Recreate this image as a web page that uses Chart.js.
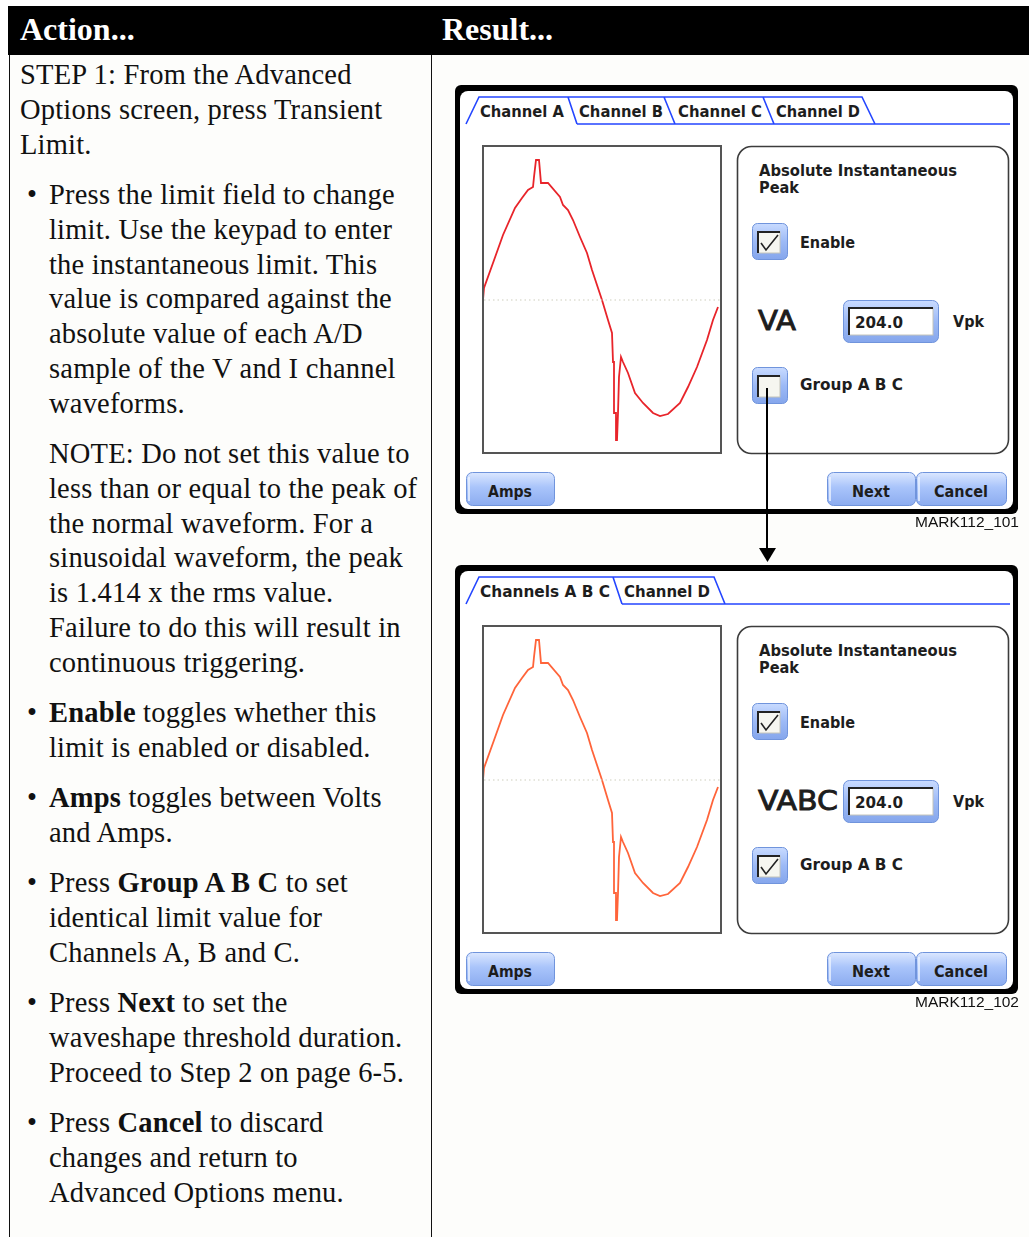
<!DOCTYPE html>
<html lang="en">
<head>
<meta charset="utf-8">
<title>Transient Limit - Step 1</title>
<script src="https://cdn.jsdelivr.net/npm/chart.js@4.4.0/dist/chart.umd.min.js"></script>
<style>
  html, body { margin: 0; padding: 0; }
  body {
    width: 1029px; height: 1237px; position: relative; overflow: hidden;
    background: #fff; color: #111;
    font-family: "Liberation Serif", "Times New Roman", serif;
  }
  .head { position: absolute; left: 8px; top: 6px; width: 1021px; height: 49px; background: #000; }
  .head span { position: absolute; top: 7px; line-height: 32px; font-size: 32px; font-weight: bold; color: #fff; }
  .sheet { position: absolute; left: 9px; top: 55px; width: 1020px; height: 1182px; background: #fdfdfb; border-left: 1px solid #111; }
  .divider { position: absolute; left: 431px; top: 55px; width: 1px; height: 1182px; background: #111; }
  .para { position: absolute; left: 49px; font-size: 28.5px; letter-spacing: 0.2px; line-height: 34.8px; white-space: nowrap; }
  .para.step { left: 20px; }
  .dot { position: absolute; left: -22px; }
  .screen { position: absolute; left: 455px; width: 563px; height: 429px; }
  .screen svg { position: absolute; left: 0; top: 0; }
  .wave { position: absolute; left: 29px; top: 62px; width: 236px; height: 305px; }
  #overlay { position: absolute; left: 0; top: 0; z-index: 5; }
</style>
</head>
<body>
<div class="head"><span style="left:12px">Action...</span><span style="left:434px">Result...</span></div>
<div class="sheet"></div>
<div class="divider"></div>

<div class="para step" style="top:58px">STEP 1: From the Advanced<br>Options screen, press Transient<br>Limit.</div>
<div class="para" style="top:178px"><span class="dot">•</span>Press the limit field to change<br>limit. Use the keypad to enter<br>the instantaneous limit. This<br>value is compared against the<br>absolute value of each A/D<br>sample of the V and I channel<br>waveforms.</div>
<div class="para" style="top:437px">NOTE: Do not set this value to<br>less than or equal to the peak of<br>the normal waveform. For a<br>sinusoidal waveform, the peak<br>is 1.414 x the rms value.<br>Failure to do this will result in<br>continuous triggering.</div>
<div class="para" style="top:696px"><span class="dot">•</span><b>Enable</b> toggles whether this<br>limit is enabled or disabled.</div>
<div class="para" style="top:781px"><span class="dot">•</span><b>Amps</b> toggles between Volts<br>and Amps.</div>
<div class="para" style="top:866px"><span class="dot">•</span>Press <b>Group A B C</b> to set<br>identical limit value for<br>Channels A, B and C.</div>
<div class="para" style="top:986px"><span class="dot">•</span>Press <b>Next</b> to set the<br>waveshape threshold duration.<br>Proceed to Step 2 on page 6-5.</div>
<div class="para" style="top:1106px"><span class="dot">•</span>Press <b>Cancel</b> to discard<br>changes and return to<br>Advanced Options menu.</div>

<div class="screen" id="screen-a" style="top:85px"><div class="wave"><canvas id="wave-a"></canvas></div></div>
<div class="screen" id="screen-abc" style="top:565px"><div class="wave"><canvas id="wave-abc"></canvas></div></div>

<svg id="overlay" width="1029" height="1237">
  <line x1="767" y1="388" x2="767" y2="550" stroke="#000" stroke-width="2"/>
  <polygon points="759,548 776,548 767.5,562" fill="#000"/>
  <text x="1019" y="527" text-anchor="end" font-family="Liberation Sans, Arial, sans-serif" font-size="15.5" fill="#111">MARK112_101</text>
  <text x="1019" y="1007" text-anchor="end" font-family="Liberation Sans, Arial, sans-serif" font-size="15.5" fill="#111">MARK112_102</text>
</svg>

<script>
// waveform captured on the meter screen (sample index across the plot, amplitude above/below zero)
const sampleIdx = [0, 1, 10, 20, 32, 39, 45, 50, 51, 53, 56, 58, 65, 77, 80, 85, 90, 97, 104, 109, 114, 119, 125, 129,
  130, 131, 131, 133, 133, 134, 135, 136, 138, 140, 145, 152, 160, 170, 177, 185, 197, 205, 214, 224, 230, 235];
const amplitude = [0, 12, 37, 65, 92, 102, 110, 113, 123, 140, 140, 117, 117, 103, 95, 90, 80, 63, 47, 30, 15, 0, -20, -33,
  -62, -62, -113, -113, -140, -140, -113, -77, -57, -62, -73, -93, -103, -113, -116, -114, -103, -87, -67, -40, -20, -7];
const zeroIdx = [1, 237];
const zeroLine = [0, 0];

const FONT = "DejaVu Sans, Verdana, sans-serif";

const select = (selector) => document.querySelector(selector);

const toPoints = (xs, ys) => xs.map((x, i) => ({ x, y: ys[i] }));

const label = (x, y, txt, w, size = 15, weight = "bold", anchor = "start", extra = "") =>
  `<text x="${x}" y="${y}" font-family="${FONT}" font-size="${size}" font-weight="${weight}" fill="#1d1d1d" ${extra}
    textLength="${w}" lengthAdjust="spacingAndGlyphs" text-anchor="${anchor}">${txt}</text>`;

const checkbox = (x, y, checked) => `
  <rect x="${x + 0.5}" y="${y + 0.5}" width="35" height="36" rx="5" fill="url(#blu)" stroke="#7094dc"/>
  <rect x="${x + 6}" y="${y + 9}" width="22" height="21" fill="#f6f6f0" stroke="#c4c4ba"/>
  <path d="M${x + 6},${y + 30} V${y + 9} H${x + 28}" fill="none" stroke="#222" stroke-width="2"/>
  ${checked ? `<path d="M${x + 9},${y + 20} L${x + 14},${y + 27} L${x + 26},${y + 12}" fill="none" stroke="#222" stroke-width="1.6"/>` : ""}`;

const button = (x, w, txt, tw) => `
  <rect x="${x + 0.5}" y="387.5" width="${w}" height="33" rx="6" fill="url(#btn)" stroke="#7094dc"/>
  <line x1="${x + 3}" y1="392" x2="${x + 3}" y2="416" stroke="#eef4ff" stroke-width="1.5"/>
  ${label(x + w / 2, 412, txt, tw, 16, "bold", "middle")}`;

const screenSvg = (cfg) => {
  const [first, ...rest] = cfg.tabs;
  let tabPath = `M${first.bottom},39 L${first.top},12 L${first.rightTop},12 L${first.rightBottom},39`;
  rest.forEach((tab) => {
    tabPath += ` M${tab.leftTop},12 L${tab.rightTop},12 L${tab.rightBottom},39`;
  });
  tabPath += ` M${first.rightBottom},39 L555,39`;
  const tabText = cfg.tabs.map((tab) => label(tab.textX, 32, tab.text, tab.textW, 15)).join("");

  return `
  <svg width="563" height="429">
    <defs>
      <linearGradient id="blu" x1="0" y1="0" x2="0" y2="1">
        <stop offset="0" stop-color="#c9dbff"/><stop offset="0.5" stop-color="#9dbaf6"/><stop offset="1" stop-color="#85a6ec"/>
      </linearGradient>
      <linearGradient id="btn" x1="0" y1="0" x2="0" y2="1">
        <stop offset="0" stop-color="#dbe7ff"/><stop offset="0.45" stop-color="#a9c4fa"/><stop offset="1" stop-color="#8cacf0"/>
      </linearGradient>
    </defs>
    <rect x="0" y="0" width="563" height="429" rx="6" fill="#000"/>
    <rect x="5" y="6" width="553" height="418" rx="8" fill="#fff"/>
    <path d="${tabPath}" fill="none" stroke="#2446ff" stroke-width="1.6"/>
    ${tabText}
    <rect x="28" y="61" width="238" height="307" fill="#fff" stroke="#555" stroke-width="2"/>
    <rect x="282.5" y="61.5" width="271" height="307" rx="14" fill="none" stroke="#3c3c3c" stroke-width="1.6"/>
    ${label(304, 91, "Absolute Instantaneous", 198)}
    ${label(304, 108, "Peak", 40)}
    ${checkbox(297, 138, true)}
    ${label(345, 163, "Enable", 55, 16)}
    ${label(303, 245, cfg.channel, cfg.channelW, 27, "normal", "start", 'stroke="#1d1d1d" stroke-width="0.9"')}
    <rect x="388.5" y="215.5" width="95" height="42" rx="6" fill="url(#blu)" stroke="#7094dc"/>
    <rect x="394" y="223" width="84" height="27" fill="#fff" stroke="#c4c4ba"/>
    <path d="M394,250 V223 H478" fill="none" stroke="#222" stroke-width="2"/>
    ${label(400, 243, "204.0", 48, 16)}
    ${label(498, 242, "Vpk", 31, 15)}
    ${checkbox(297, 282, cfg.group)}
    ${label(345, 305, "Group A B C", 103, 15)}
    ${button(11, 88, "Amps", 44)}
    ${button(372, 88, "Next", 38)}
    ${button(461, 90, "Cancel", 54)}
  </svg>`;
};

const drawWave = (canvas, color) => new Chart(canvas, {
  type: "line",
  data: {
    datasets: [
      {
        data: toPoints(zeroIdx, zeroLine),
        borderColor: "#cdcdbd",
        borderWidth: 1,
        borderDash: [1.5, 3],
        pointRadius: 0
      },
      {
        data: toPoints(sampleIdx, amplitude),
        borderColor: color,
        borderWidth: 1.8,
        pointRadius: 0,
        tension: 0
      }
    ]
  },
  options: {
    responsive: true,
    maintainAspectRatio: false,
    animation: false,
    events: [],
    layout: { padding: 0 },
    plugins: {
      legend: { display: false },
      tooltip: { enabled: false }
    },
    scales: {
      x: { type: "linear", min: 1, max: 237, display: false },
      y: { type: "linear", min: -152, max: 153, display: false }
    }
  }
});

const screens = [
  {
    id: "#screen-a",
    canvas: "wave-a",
    color: "#e8242a",
    channel: "VA",
    channelW: 38,
    group: false,
    tabs: [
      { text: "Channel A", textX: 25, textW: 84, bottom: 11, top: 24, rightTop: 113, rightBottom: 122 },
      { text: "Channel B", textX: 124, textW: 84, leftTop: 113, rightTop: 209, rightBottom: 220 },
      { text: "Channel C", textX: 223, textW: 84, leftTop: 209, rightTop: 308, rightBottom: 319 },
      { text: "Channel D", textX: 321, textW: 84, leftTop: 308, rightTop: 407, rightBottom: 420 }
    ]
  },
  {
    id: "#screen-abc",
    canvas: "wave-abc",
    color: "#ff643a",
    channel: "VABC",
    channelW: 80,
    group: true,
    tabs: [
      { text: "Channels A B C", textX: 25, textW: 130, bottom: 11, top: 24, rightTop: 158, rightBottom: 167 },
      { text: "Channel D", textX: 169, textW: 86, leftTop: 158, rightTop: 259, rightBottom: 270 }
    ]
  }
];

screens.forEach((cfg) => {
  select(cfg.id).insertAdjacentHTML("afterbegin", screenSvg(cfg));
  drawWave(document.getElementById(cfg.canvas), cfg.color);
});
</script>
</body>
</html>
